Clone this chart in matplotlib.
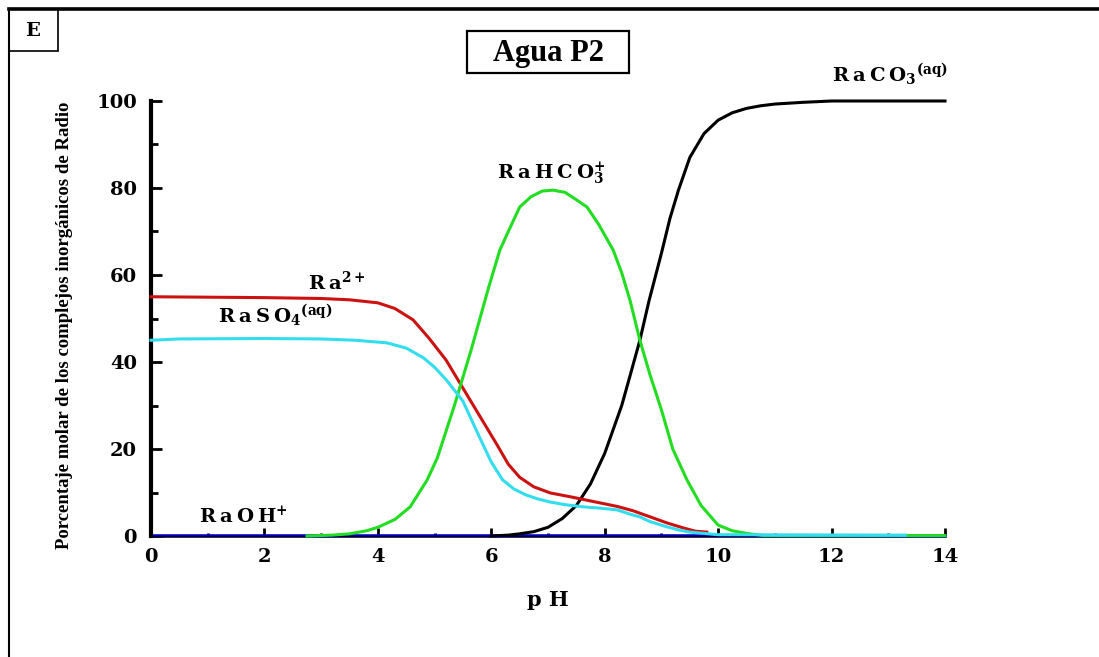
import matplotlib
matplotlib.use("Agg")
import matplotlib.pyplot as plt
from matplotlib.patches import Rectangle
from matplotlib.lines import Line2D

plt.rcParams['mathtext.fontset'] = 'dejavuserif'

# ---- data ----
ph_ra = [0, 1, 2, 3, 3.5, 4.0, 4.3, 4.62, 4.9, 5.2, 5.5, 5.8, 6.1, 6.3, 6.5, 6.75, 7.04, 7.4,
         7.92, 8.22, 8.5, 8.8, 9.1, 9.4, 9.6, 9.8]
ra = [55, 54.9, 54.8, 54.6, 54.3, 53.6, 52.3, 49.7, 45.5, 40.5, 34, 27.5, 21, 16.5, 13.5, 11.3, 9.9, 9.0,
      7.6, 6.8, 5.8, 4.4, 3.0, 1.8, 1.1, 0.9]

ph_raso4 = [0, 0.5, 2, 3, 3.6, 4.16, 4.5, 4.8, 5.0, 5.2, 5.5, 5.8, 6.0, 6.2, 6.4, 6.6, 6.8, 7.04,
            7.3, 7.62, 7.92, 8.22, 8.45, 8.62, 8.8, 9.1, 9.3, 9.5, 10.0, 13.3]
raso4 = [45, 45.3, 45.4, 45.3, 45, 44.4, 43.2, 41, 38.8, 36, 31, 22.5, 17, 12.9, 10.8, 9.5, 8.6, 7.8,
         7.2, 6.7, 6.4, 6.0, 5.0, 4.4, 3.3, 2.1, 1.4, 0.9, 0.3, 0.2]

ph_rahco3 = [2.75, 3.2, 3.5, 3.8, 4.0, 4.3, 4.57, 4.87, 5.05, 5.2, 5.35, 5.5, 5.65, 5.8, 5.95, 6.15,
             6.3, 6.5, 6.7, 6.9, 7.09, 7.3, 7.5, 7.69, 7.9, 8.15, 8.3, 8.45, 8.62, 8.8, 9.0, 9.2,
             9.45, 9.7, 10.0, 10.25, 10.5, 10.8, 14.0]
rahco3 = [0, 0.2, 0.5, 1.2, 2, 3.8, 6.7, 12.9, 18, 24, 30, 36.5, 43, 50, 57, 65.7,
          70, 75.6, 78, 79.3, 79.5, 79, 77.3, 75.6, 71.5, 65.7, 60.5, 54, 45, 37, 29, 20,
          12.9, 7, 2.5, 1.2, 0.6, 0.1, 0.1]

ph_raco3 = [6.0, 6.3, 6.5, 6.75, 7.0, 7.25, 7.5, 7.75, 8.0, 8.15, 8.3, 8.45, 8.62, 8.78, 9.0,
            9.15, 9.3, 9.5, 9.75, 10.0, 10.25, 10.5, 10.75, 11.0, 11.5, 12.0, 14.0]
raco3 = [0, 0.2, 0.5, 1, 2, 4, 7, 12, 19, 24.5, 30, 37, 45, 54, 65,
         73, 79.5, 87, 92.5, 95.6, 97.3, 98.3, 98.9, 99.3, 99.7, 100, 100]

ph_raoh = [0, 14]
raoh = [0, 0]

xticks = [0, 2, 4, 6, 8, 10, 12, 14]
yticks = [0, 20, 40, 60, 80, 100]

# ---- figure ----
fig = plt.figure(figsize=(10.99, 6.57), dpi=100)
W, H = 1099, 657
ax = fig.add_axes([151 / W, 1 - 536 / H, (945 - 151) / W, (536 - 101) / H])

lw = 2.2
ax.plot(ph_raoh, raoh, color='#0000cc', lw=lw + 0.4, zorder=2, clip_on=False)
ax.plot(ph_raco3, raco3, color='black', lw=lw, zorder=3, clip_on=False)
ax.plot(ph_ra, ra, color='#cc1111', lw=lw, zorder=4, clip_on=False)
ax.plot(ph_rahco3, rahco3, color='#22dd22', lw=lw, zorder=5, clip_on=False)
ax.plot(ph_raso4, raso4, color='#33ddee', lw=lw, zorder=6, clip_on=False)

ax.set_xlim(0, 14)
ax.set_ylim(0, 100)
for s in ['top', 'right']:
    ax.spines[s].set_visible(False)
ax.spines['left'].set_linewidth(3)
ax.spines['bottom'].set_linewidth(1)

tickfont = dict(family='DejaVu Serif', weight='bold', size=14)
ax.set_xticks(xticks)
ax.set_yticks(yticks)
ax.set_xticks([1, 3, 5, 7, 9, 11, 13], minor=True)
ax.set_yticks([10, 30, 50, 70, 90], minor=True)
ax.set_xticklabels([str(v) for v in xticks], **tickfont)
ax.set_yticklabels([str(v) for v in yticks], **tickfont)
ax.tick_params(axis='x', which='major', direction='in', length=6, width=2, pad=9)
ax.tick_params(axis='x', which='minor', direction='in', length=2.5, width=2)
ax.tick_params(axis='y', which='major', direction='in', length=8, width=2, pad=10)
ax.tick_params(axis='y', which='minor', direction='in', length=5, width=2)

ax.set_xlabel('p H', family='DejaVu Serif', weight='bold', size=15, labelpad=17)
fig.text(65 / W, 1 - 325 / H, 'Porcentaje molar de los complejos inorgánicos de Radio',
         rotation=90, ha='center', va='center', family='Liberation Serif',
         weight='bold', size=13.5)

# species labels
lab = dict(fontsize=14, color='black', ha='left', va='baseline', zorder=10)
ax.text(2.77, 56.6, r'$\mathbf{R\:a}^{\mathbf{2+}}$', **lab)
ax.text(1.18, 49.0, r'$\mathbf{R\:a\:S\:O}_{\mathbf{4}}{}^{\mathbf{(aq)}}$', **lab)
ax.text(6.1, 82.0, r'$\mathbf{R\:a\:H\:C\:O}_{\mathbf{3}}^{\mathbf{+}}$', **lab)
ax.text(12.0, 104.4, r'$\mathbf{R\:a\:C\:O}_{\mathbf{3}}{}^{\mathbf{(aq)}}$', clip_on=False, **lab)
ax.text(0.85, 3.0, r'$\mathbf{R\:a\:O\:H}^{\mathbf{+}}$', **lab)

# title box
fig.patches.append(Rectangle((467 / W, 1 - 73 / H), (629 - 467) / W, (73 - 31) / H,
                             transform=fig.transFigure, fill=False, lw=1.6, ec='black'))
fig.text(548 / W, 1 - 53 / H, 'Agua P2', ha='center', va='center',
         family='Liberation Serif', weight='bold', size=22)

# outer frame
fig.lines.append(Line2D([8.5 / W, 1], [1 - 9 / H, 1 - 9 / H], transform=fig.transFigure,
                        color='black', lw=2.6))
fig.lines.append(Line2D([9 / W, 9 / W], [0, 1 - 9 / H], transform=fig.transFigure,
                        color='black', lw=1.5))
# E box
fig.patches.append(Rectangle((9 / W, 1 - 51 / H), (58 - 9) / W, (51 - 9) / H,
                             transform=fig.transFigure, fill=False, lw=1.2, ec='black'))
fig.text(33 / W, 1 - 31 / H, 'E', ha='center', va='center',
         family='DejaVu Serif', weight='bold', size=14)

fig.savefig('out.png', dpi=100)
